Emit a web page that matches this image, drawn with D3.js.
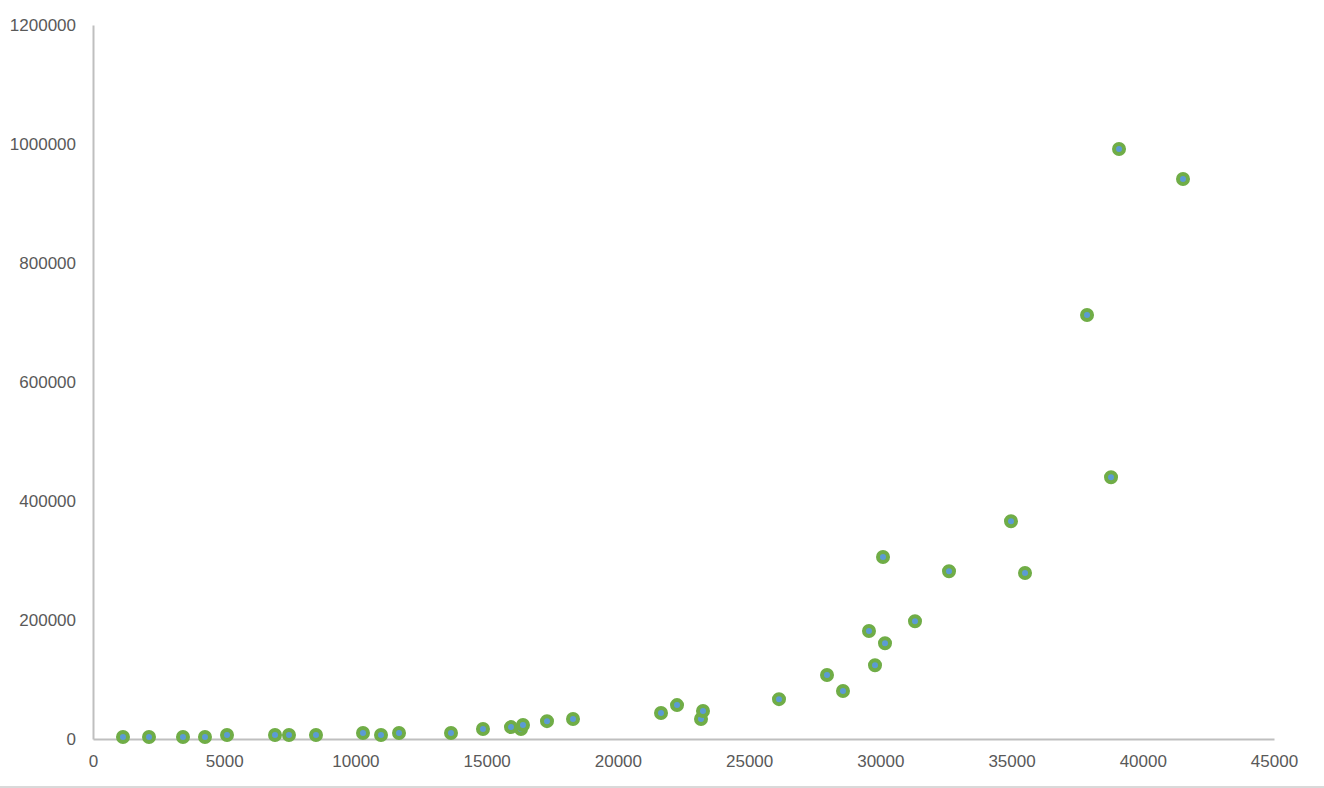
<!DOCTYPE html>
<html>
<head>
<meta charset="utf-8">
<script src="https://cdn.jsdelivr.net/npm/d3@7"></script>
<style>
  html, body { margin: 0; padding: 0; background: #fff; }
  svg { display: block; }
  .tick text { font-family: "Liberation Sans", Arial, Helvetica, sans-serif; font-size: 17px; fill: #595959; }
</style>
</head>
<body>
<svg id="chart" width="1324" height="788"></svg>
<script>
const xValues = [1143, 2134, 3429, 4267, 5106, 6935, 7468, 8497, 10288, 10974, 11660, 13641, 14860, 15927, 16308, 16384, 17299, 18290, 21643, 22253, 23167, 23243, 26139, 27968, 28577, 29568, 29797, 30102, 30178, 31321, 32617, 34979, 35513, 37876, 38790, 39095, 41533];
const yValues = [3400, 3400, 3400, 3400, 6700, 6700, 6700, 6700, 10000, 6700, 10000, 10000, 16800, 20000, 16800, 23500, 30000, 33600, 43700, 57000, 33600, 47000, 67000, 107500, 80700, 181500, 124000, 306000, 161000, 198000, 282000, 366000, 279000, 712600, 440000, 991600, 941200];
const xTicks = [0, 5000, 10000, 15000, 20000, 25000, 30000, 35000, 40000, 45000];
const yTicks = [0, 200000, 400000, 600000, 800000, 1000000, 1200000];

(function () {
const svg = d3.select("#chart");
const plotLeft = 93, plotRight = 1274, plotTop = 25, plotBottom = 739;

const x = d3.scaleLinear().domain([0, 45000]).range([plotLeft, plotRight]);
const y = d3.scaleLinear().domain([0, 1200000]).range([plotBottom, plotTop]);

// bottom border
svg.append("line").attr("x1", 0).attr("x2", 1324).attr("y1", 787).attr("y2", 787)
  .attr("stroke", "#d9d9d9").attr("stroke-width", 2);

const xAxis = svg.append("g").attr("transform", `translate(0,${plotBottom})`)
  .call(d3.axisBottom(x).tickValues(xTicks).tickFormat(d3.format("d")).tickSize(0).tickPadding(16));
xAxis.select(".domain").attr("stroke", "#bfbfbf").attr("stroke-width", 2);

const yAxis = svg.append("g").attr("transform", `translate(${plotLeft},0)`)
  .call(d3.axisLeft(y).tickValues(yTicks).tickFormat(d3.format("d")).tickSize(0).tickPadding(17));
yAxis.select(".domain").attr("stroke", "#bfbfbf").attr("stroke-width", 2);

const pts = xValues.map((v, i) => ({ x: v, y: yValues[i] }));
svg.append("g").selectAll("circle").data(pts).join("circle")
  .attr("cx", d => x(d.x)).attr("cy", d => y(d.y))
  .attr("r", 5)
  .attr("fill", "#5b9bd5")
  .attr("stroke", "#70ad47")
  .attr("stroke-width", 4);
})();
</script>
</body>
</html>
